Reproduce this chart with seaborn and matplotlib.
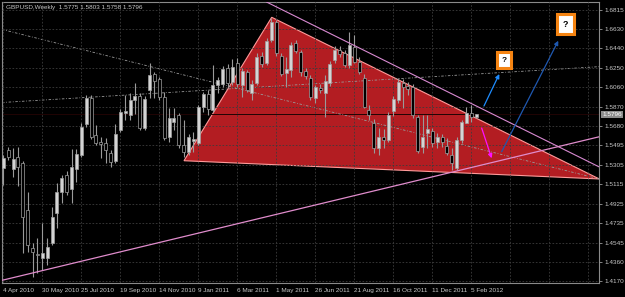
import numpy as np
import pandas as pd
import matplotlib
matplotlib.use("Agg")
import matplotlib.pyplot as plt
import seaborn as sns
from matplotlib.patches import Polygon
from matplotlib.transforms import blended_transform_factory

# ---------------- data ----------------
opens = [1.5270, 1.5449, 1.5263, 1.5380, 1.5322, 1.4863, 1.4492, 1.4434, 1.4395, 1.4395,
         1.4541, 1.4834, 1.5039, 1.5205, 1.5068, 1.5263, 1.5400, 1.5702, 1.5956, 1.5595,
         1.5527, 1.5517, 1.5419, 1.5341, 1.5644, 1.5810, 1.5790, 1.5937, 1.5976, 1.5663,
         1.6034, 1.6190, 1.6141, 1.5966, 1.5575, 1.5722, 1.5790, 1.5497, 1.5429, 1.5536,
         1.5517, 1.5868, 1.5995, 1.5839, 1.6083, 1.6093, 1.6249, 1.6112, 1.6298, 1.6083,
         1.6210, 1.6005, 1.6102, 1.6366, 1.6298, 1.6522, 1.6698, 1.6366, 1.6200, 1.6229,
         1.6493, 1.6405, 1.6219, 1.6151, 1.5956, 1.6054, 1.6005, 1.6102, 1.6327, 1.6425,
         1.6395, 1.6278, 1.6454, 1.6308, 1.6151, 1.5839, 1.5712, 1.5468, 1.5575, 1.5546,
         1.5829, 1.5937, 1.6102, 1.6073, 1.6063, 1.5771, 1.5478, 1.5614, 1.5634, 1.5527,
         1.5575, 1.5488, 1.5400, 1.5273, 1.5546, 1.5712, 1.5810, 1.5775]
highs = [1.5400, 1.5478, 1.5468, 1.5478, 1.5341, 1.5039, 1.4541, 1.4590, 1.4736, 1.4590,
         1.4892, 1.5127, 1.5205, 1.5244, 1.5458, 1.5458, 1.5712, 1.5985, 1.5985, 1.5693,
         1.5575, 1.5566, 1.5449, 1.5702, 1.5849, 1.5985, 1.6005, 1.6102, 1.6005, 1.5976,
         1.6298, 1.6210, 1.6161, 1.6015, 1.5859, 1.5859, 1.5810, 1.5741, 1.5600, 1.5624,
         1.5888, 1.6015, 1.6034, 1.6278, 1.6161, 1.6268, 1.6288, 1.6337, 1.6346, 1.6249,
         1.6229, 1.6132, 1.6395, 1.6405, 1.6542, 1.6737, 1.6717, 1.6395, 1.6356, 1.6503,
         1.6522, 1.6425, 1.6249, 1.6180, 1.6083, 1.6093, 1.6180, 1.6317, 1.6464, 1.6464,
         1.6425, 1.6600, 1.6571, 1.6356, 1.6190, 1.5888, 1.5751, 1.5663, 1.5650, 1.5819,
         1.5976, 1.6151, 1.6141, 1.6112, 1.6093, 1.5790, 1.5790, 1.5790, 1.5663, 1.5614,
         1.5600, 1.5566, 1.5468, 1.5575, 1.5741, 1.5868, 1.5888, 1.5803]
lows = [1.5107, 1.5351, 1.5185, 1.5097, 1.4444, 1.4453, 1.4209, 1.4248, 1.4277, 1.4326,
        1.4522, 1.4687, 1.4931, 1.5010, 1.4931, 1.5136, 1.5380, 1.5673, 1.5556, 1.5497,
        1.5370, 1.5322, 1.5283, 1.5322, 1.5624, 1.5741, 1.5741, 1.5800, 1.5644, 1.5644,
        1.5956, 1.5956, 1.5937, 1.5546, 1.5527, 1.5644, 1.5468, 1.5380, 1.5400, 1.5429,
        1.5497, 1.5819, 1.5790, 1.5819, 1.6005, 1.6063, 1.6063, 1.6083, 1.6063, 1.5966,
        1.6015, 1.5937, 1.6083, 1.6259, 1.6278, 1.6503, 1.6366, 1.6171, 1.6063, 1.6161,
        1.6395, 1.6171, 1.6141, 1.5937, 1.5905, 1.6005, 1.5771, 1.6073, 1.6298, 1.6356,
        1.6259, 1.6249, 1.6298, 1.6190, 1.5859, 1.5741, 1.5419, 1.5400, 1.5470, 1.5527,
        1.5780, 1.5907, 1.5859, 1.5985, 1.5761, 1.5419, 1.5419, 1.5468, 1.5478, 1.5468,
        1.5478, 1.5400, 1.5253, 1.5253, 1.5517, 1.5712, 1.5722, 1.5758]
closes = [1.5368, 1.5380, 1.5361, 1.5283, 1.4795, 1.4522, 1.4453, 1.4424, 1.4444, 1.4502,
          1.4795, 1.5039, 1.5175, 1.5039, 1.5283, 1.5410, 1.5673, 1.5956, 1.5575, 1.5517,
          1.5507, 1.5449, 1.5331, 1.5605, 1.5819, 1.5829, 1.5937, 1.5976, 1.5663, 1.5946,
          1.6180, 1.6122, 1.5966, 1.5566, 1.5761, 1.5761, 1.5497, 1.5429, 1.5575, 1.5556,
          1.5868, 1.5995, 1.5849, 1.6083, 1.6132, 1.6239, 1.6102, 1.6259, 1.6093, 1.6219,
          1.6034, 1.6093, 1.6356, 1.6288, 1.6512, 1.6698, 1.6395, 1.6190, 1.6239, 1.6473,
          1.6415, 1.6210, 1.6171, 1.5966, 1.6063, 1.6034, 1.6122, 1.6288, 1.6425, 1.6385,
          1.6278, 1.6473, 1.6308, 1.6210, 1.5868, 1.5790, 1.5468, 1.5575, 1.5546, 1.5790,
          1.5946, 1.6112, 1.6063, 1.6044, 1.5790, 1.5439, 1.5575, 1.5653, 1.5517, 1.5575,
          1.5527, 1.5419, 1.5322, 1.5546, 1.5722, 1.5810, 1.5775, 1.5796]
start_date = "2010-04-04"
ytick_values = [1.6815, 1.6630, 1.6440, 1.6250, 1.6060, 1.5870, 1.5680, 1.5495,
                1.5305, 1.5115, 1.4925, 1.4735, 1.4545, 1.4360, 1.4170]
header = "GBPUSD,Weekly  1.5775 1.5803 1.5758 1.5796"

# drawn objects (bar index, price)
triangle_idx = [37.07, 55.06, 122.26]
triangle_price = [1.5344, 1.6744, 1.5166]
resist_idx = [55.06, 122.26]
resist_price = [1.6868, 1.5283]
support_idx = [-0.68, 122.26]
support_price = [1.4172, 1.5578]
gray1_idx = [-0.68, 122.26]
gray1_price = [1.6630, 1.5166]
gray2_idx = [-0.68, 122.26]
gray2_price = [1.5911, 1.6262]
arrow_blue_idx = [98.6, 101.75]
arrow_blue_price = [1.5878, 1.6190]
arrow_navy_idx = [102.23, 113.85]
arrow_navy_price = [1.5432, 1.6515]
arrow_mag_idx = [98.13, 100.18]
arrow_mag_price = [1.5663, 1.5368]
qbox_idx = [102.75, 115.3]
qbox_price = [1.6327, 1.6678]

# ---------------- frame ----------------
df = pd.DataFrame({"open": opens, "high": highs, "low": lows, "close": closes})
df["idx"] = np.arange(len(df))
df["date"] = pd.date_range(start_date, periods=len(df), freq="7D")
df["bull"] = df["close"] >= df["open"]

sns.set_theme(style="dark", rc={
    "axes.facecolor": "black", "figure.facecolor": "black",
    "axes.edgecolor": "#8a8a8a", "grid.color": "#3a3a3a",
})
plt.rcParams["font.family"] = ["Liberation Sans", "DejaVu Sans"]

W, H = 625, 297
fig = plt.figure(figsize=(W / 100, H / 100), dpi=100)
ax = fig.add_axes([2 / W, 14 / H, 597.3 / W, 281 / H])
ax.set_facecolor("black")

x_lo, x_hi = -0.267, 122.26
y_lo, y_hi = 1.41505, 1.68931
ax.set_xlim(x_lo, x_hi)
ax.set_ylim(y_lo, y_hi)

# triangle
tri = Polygon(np.column_stack([triangle_idx, triangle_price]), closed=True,
              facecolor="#b31d22", edgecolor="#ff9a9a", lw=0.8, zorder=1)
ax.add_patch(tri)

# grid
major_x = list(range(0, len(df), 8))
minor_x = list(range(major_x[-1] + 8, int(x_hi) + 1, 8))
ax.set_xticks(major_x)
ax.set_xticks(minor_x, minor=True)
ax.set_xticklabels([f"{d.day} {d.strftime('%b %Y')}" for d in df["date"].iloc[major_x]])
ax.set_yticks(ytick_values)
ax.grid(True, which="both", color="#3c3c3c", lw=0.6, ls=(0, (2, 2)), zorder=1.5)
ax.set_axisbelow(False)
for gl in ax.get_xgridlines() + ax.get_ygridlines():
    gl.set_zorder(1.5)

# current price line (only shows over the red area)
ax.axhline(df["close"].iloc[-1], color="#200404", lw=0.7, zorder=1.6)

# gray dash-dot lines
ax.axline((gray1_idx[0], gray1_price[0]), (gray1_idx[1], gray1_price[1]),
          color="#9a9a9a", lw=0.6, ls=(0, (3, 2, 1, 2)), zorder=2)
ax.axline((gray2_idx[0], gray2_price[0]), (gray2_idx[1], gray2_price[1]),
          color="#9a9a9a", lw=0.6, ls=(0, (3, 2, 1, 2)), zorder=2)

# candles
ax.vlines(df["idx"], df["low"], df["high"], color="#9a9a9a", lw=0.8, zorder=3)
body_lo = np.minimum(df["open"], df["close"])
body_h = np.maximum(np.abs(df["close"] - df["open"]), 0.0005)
fills = np.where(df["bull"], "#d4d4d4", "#000000")
ax.bar(df["idx"], body_h, bottom=body_lo, width=0.62, color=fills,
       edgecolor="#a0a0a0", lw=0.5, zorder=3.5)

# pink lines
ax.axline((resist_idx[0], resist_price[0]), (resist_idx[1], resist_price[1]),
          color="#d98ad2", lw=0.8, zorder=4)
ax.axline((support_idx[0], support_price[0]), (support_idx[1], support_price[1]),
          color="#e08ccc", lw=0.9, zorder=4)

# arrows
def arrow(xs, ys, color):
    ax.annotate("", xy=(xs[1], ys[1]), xytext=(xs[0], ys[0]),
                arrowprops=dict(arrowstyle="-|>", color=color, lw=0.9,
                                mutation_scale=6, shrinkA=0, shrinkB=0),
                zorder=5)

arrow(arrow_blue_idx, arrow_blue_price, "#1e8cff")
arrow(arrow_navy_idx, arrow_navy_price, "#1f58b0")
arrow(arrow_mag_idx, arrow_mag_price, "#ff10ff")

# question boxes
for i, (qx, qy) in enumerate(zip(qbox_idx, qbox_price)):
    ax.text(qx, qy, "?", ha="center", va="center", fontsize=6 if i == 0 else 6.5,
            fontweight="bold", color="black", zorder=6,
            bbox=dict(boxstyle="square,pad=0.55" if i == 0 else "square,pad=0.65",
                      fc="white", ec="#f58412", lw=2.2))

# axes styling
ax.yaxis.tick_right()
ax.tick_params(axis="both", which="major", colors="#9a9a9a", labelcolor="#c8c8c8",
               labelsize=4.6, length=2.5, width=0.6, direction="out", pad=1.2)
ax.tick_params(axis="x", which="minor", length=0)
for lbl in ax.get_xticklabels():
    lbl.set_ha("left")
ax.set_yticklabels([f"{v:.4f}" for v in ytick_values])
for s in ax.spines.values():
    s.set_visible(True)
    s.set_color("#8a8a8a")
    s.set_linewidth(0.8)

# current price tag
trans = blended_transform_factory(ax.transAxes, ax.transData)
ax.text(1.0045, df["close"].iloc[-1], f"{df['close'].iloc[-1]:.4f}", transform=trans,
        ha="left", va="center", fontsize=4.6, color="white", zorder=7, clip_on=False,
        bbox=dict(boxstyle="square,pad=0.15", fc="#8c8c8c", ec="none"))

fig.text(6 / W, 1 - 7 / H, header, color="#c8c8c8", fontsize=4.6, va="center", ha="left")

fig.savefig("out.png", dpi=100, facecolor="black")
